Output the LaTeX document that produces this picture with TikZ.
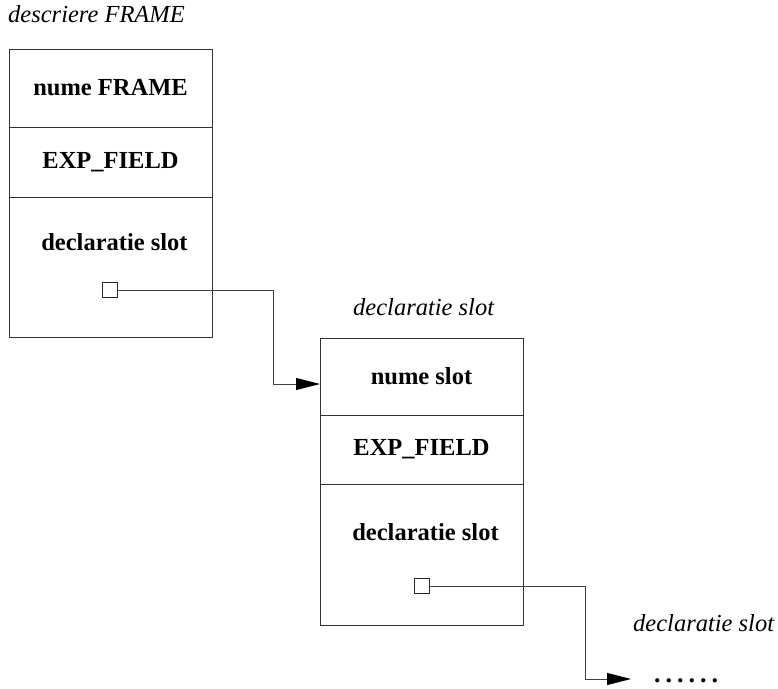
\documentclass[tikz,border=0pt]{standalone}
\usepackage{fontspec}
\setmainfont{Liberation Serif}
\usetikzlibrary{arrows.meta, positioning}

\begin{document}
\begin{tikzpicture}[
        x=1pt, y=-1pt,
        every node/.style={font=\fontsize{24.5}{29}\selectfont},
        field/.style={draw=black!80, line width=0.9pt, minimum width=203pt,
            inner sep=0pt, outer sep=0pt, font=\fontsize{24.5}{29}\selectfont\bfseries},
        entry/.style={inner sep=0pt, anchor=base, font=\fontsize{24.5}{29}\selectfont\bfseries},
        caption/.style={inner sep=0pt, anchor=base west, font=\fontsize{24.5}{29}\selectfont\itshape},
        ptr/.style={draw=black!85, line width=0.9pt, minimum size=15pt, inner sep=0pt},
        link/.style={draw=black!75, line width=0.9pt, -{Triangle[length=24pt, width=12pt, color=black]}}
    ]
    \useasboundingbox (0,0) rectangle (778,688);

% ---------- frame description ----------
    \node[caption] (t1) at (8,22) {descriere FRAME};
    \node[field, minimum height=78pt, anchor=north west] (f11) at (9,49) {nume FRAME};
    \node[field, minimum height=70pt, below=0pt of f11] (f12) {EXP\_FIELD};
    \node[field, minimum height=140pt, below=0pt of f12] (f13) {};
    \node[entry] (l13) at (114.5,250) {declaratie slot};
    \node[ptr] (p1) at (110,290) {};

% ---------- first slot declaration ----------
    \node[caption] (t2) at (353,315) {declaratie slot};
    \node[field, minimum height=77pt, anchor=north west] (f21) at (320,338) {nume slot};
    \node[field, minimum height=69pt, below=0pt of f21] (f22) {EXP\_FIELD};
    \node[field, minimum height=141pt, below=0pt of f22] (f23) {};
    \node[entry] (l23) at (425.5,540) {declaratie slot};
    \node[ptr] (p2) at (421.5,586) {};

% ---------- next slot declaration ----------
    \node[caption] (t3) at (633,631) {declaratie slot};
    \node[entry, anchor=base west, font=\fontsize{26}{29}\selectfont\bfseries] (dots) at (654,682)
        {.\kern5pt.\kern5pt.\kern5pt.\kern5pt.\kern5pt.};

% ---------- pointers ----------
    \coordinate (k1) at (273,384);
    \draw[link] (p1.east) -| (k1) -- (k1 -| f21.west);

    \coordinate (k2) at (585,679);
    \coordinate (e3) at (631,679);
    \draw[link] (p2.east) -| (k2) -- (e3);

\end{tikzpicture}
\end{document}
